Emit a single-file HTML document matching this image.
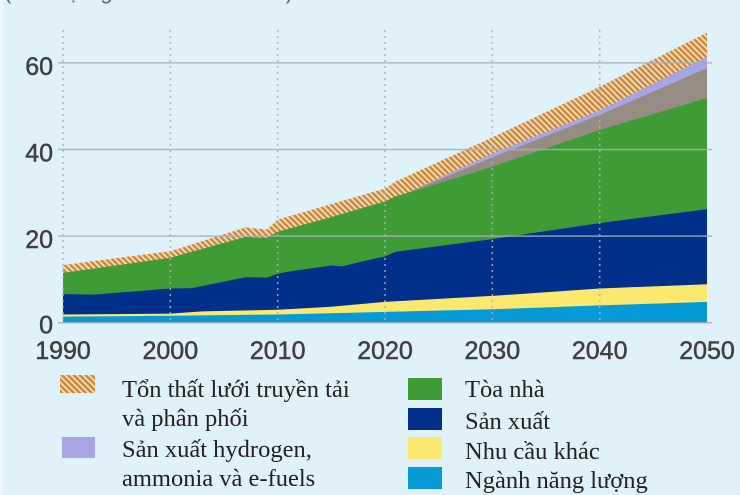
<!DOCTYPE html>
<html>
<head>
<meta charset="utf-8">
<style>
  html,body{margin:0;padding:0;}
  body{width:740px;height:495px;overflow:hidden;background:#dff1f9;}
  svg{display:block;}
</style>
</head>
<body>
<svg width="740" height="495" viewBox="0 0 740 495" xmlns="http://www.w3.org/2000/svg">
  <defs>
    <pattern id="hatch" patternUnits="userSpaceOnUse" width="4.2" height="4.2" patternTransform="rotate(-45)">
      <rect width="4.2" height="4.2" fill="#f1dcbf"/>
      <rect width="2.3" height="4.2" fill="#cc8636"/>
    </pattern>
  </defs>
  <rect x="0" y="0" width="740" height="495" fill="#dff1f9"/>
  <rect x="0" y="0" width="3" height="495" fill="#eef7fb"/>

  <!-- cropped title -->
  <text x="4" y="-1" font-family="Liberation Sans, sans-serif" font-size="22" fill="#666">(Đơn vị: nghìn TWh mỗi năm)</text>

  <!-- areas -->
  <polygon fill="url(#hatch)" points="63,265.1 170.3,251.2 245.5,227.4 266.9,229.6 277.7,219.6 331.3,204.1 385,188.5 395.7,181.5 492.3,137.4 599.7,86.7 707,32.6 707,322.7 63,322.7"/>
  <polygon fill="#a4a6e6" points="406.5,193.2 492.3,153.8 599.7,110.5 707,56.8 707,322.7 406.5,322.7"/>
  <polygon fill="#978c83" points="406.5,193.2 492.3,157.3 599.7,114.9 707,68.1 707,322.7 406.5,322.7"/>
  <polygon fill="#3f9b35" points="63,272.9 170.3,257.7 245.5,237.0 266.9,237.8 277.7,231.8 331.3,217.1 374.3,204.5 385,201.5 395.7,196.3 406.5,193.2 492.3,166.8 599.7,130.0 707,98.0 707,322.7 63,322.7"/>
  <polygon fill="#00308a" points="63,294.1 95.2,294.6 170.3,288.5 191.8,288.1 245.5,277.2 266.9,277.7 277.7,273.8 288.4,271.6 331.3,265.5 342.1,266.4 374.3,258.6 385,256.5 395.7,251.7 492.3,239.1 599.7,223.1 707,209.3 707,322.7 63,322.7"/>
  <polygon fill="#fbe96f" points="63,314.5 170.3,313.6 202.5,311.4 277.7,309.7 331.3,306.7 385,301.9 492.3,295.9 599.7,288.5 707,284.2 707,322.7 63,322.7"/>
  <polygon fill="#069bd7" points="63,316.6 170.3,315.8 277.7,314.5 385,311.9 492.3,309.3 599.7,305.4 707,301.9 707,322.7 63,322.7"/>

  <!-- horizontal gridlines -->
  <g stroke="#a8afb4" stroke-width="1.5" opacity="0.85">
    <line x1="58" y1="62.9" x2="712" y2="62.9"/>
    <line x1="58" y1="149.5" x2="712" y2="149.5"/>
    <line x1="58" y1="236.1" x2="712" y2="236.1"/>
    <line x1="58" y1="322.7" x2="712" y2="322.7"/>
  </g>
  <!-- vertical dotted gridlines -->
  <g stroke="#aab2b8" stroke-width="1.6" stroke-dasharray="2,4" opacity="0.85">
    <line x1="63" y1="30" x2="63" y2="322"/>
    <line x1="170.3" y1="30" x2="170.3" y2="322"/>
    <line x1="277.7" y1="30" x2="277.7" y2="322"/>
    <line x1="385" y1="30" x2="385" y2="322"/>
    <line x1="492.3" y1="30" x2="492.3" y2="322"/>
    <line x1="599.7" y1="30" x2="599.7" y2="322"/>
  </g>

  <!-- y axis labels -->
  <g font-family="Liberation Sans, sans-serif" font-size="25" fill="#404040" stroke="#404040" stroke-width="0.5" text-anchor="end">
    <text x="53" y="75">60</text>
    <text x="53" y="161.5">40</text>
    <text x="53" y="248">20</text>
    <text x="53" y="333.5">0</text>
  </g>
  <!-- x axis labels -->
  <g font-family="Liberation Sans, sans-serif" font-size="25" fill="#404040" stroke="#404040" stroke-width="0.5" text-anchor="middle">
    <text x="63" y="359">1990</text>
    <text x="170.3" y="359">2000</text>
    <text x="277.7" y="359">2010</text>
    <text x="385" y="359">2020</text>
    <text x="492.3" y="359">2030</text>
    <text x="599.7" y="359">2040</text>
    <text x="707" y="359">2050</text>
  </g>

  <!-- legend -->
  <rect x="60" y="375" width="35" height="18" fill="url(#hatch)"/>
  <rect x="62" y="437" width="33" height="21" fill="#a4a6e6"/>
  <rect x="408" y="378" width="34" height="22" fill="#3f9b35"/>
  <rect x="408" y="408" width="34" height="22" fill="#00308a"/>
  <rect x="408" y="437" width="34" height="22" fill="#fbe96f"/>
  <rect x="408" y="467" width="34" height="22" fill="#069bd7"/>

  <g font-family="Liberation Serif, serif" font-size="24.5" fill="#222">
    <text x="122" y="397">Tổn thất lưới truyền tải</text>
    <text x="122" y="426">và phân phối</text>
    <text x="122" y="457">Sản xuất hydrogen,</text>
    <text x="122" y="486">ammonia và e-fuels</text>
    <text x="465" y="397">Tòa nhà</text>
    <text x="465" y="429">Sản xuất</text>
    <text x="465" y="459">Nhu cầu khác</text>
    <text x="465" y="488">Ngành năng lượng</text>
  </g>
</svg>
</body>
</html>
